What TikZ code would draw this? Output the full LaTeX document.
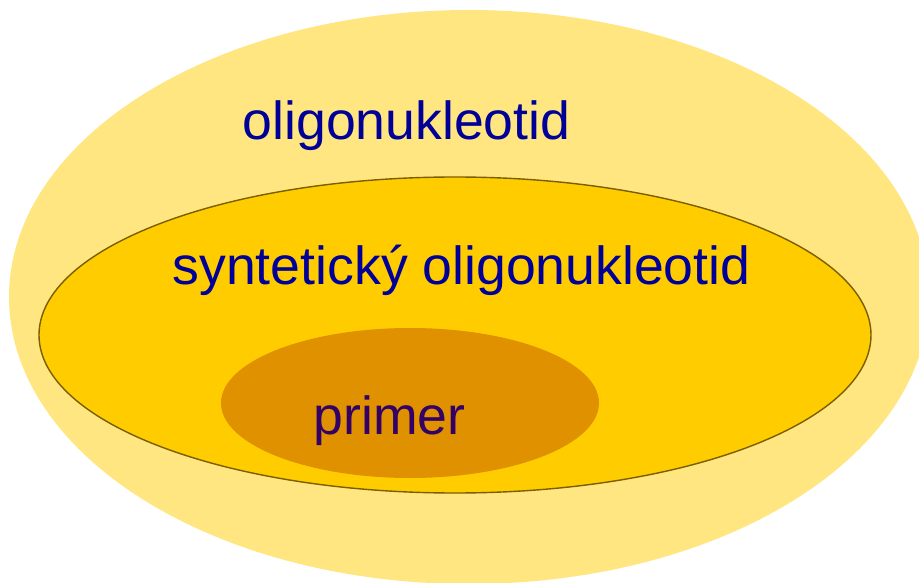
\documentclass[tikz,border=0pt]{standalone}
\usepackage{fontspec}
\setmainfont{Liberation Sans}
\definecolor{outerfill}{RGB}{255,230,128}
\definecolor{midfill}{RGB}{255,204,0}
\definecolor{midline}{RGB}{122,94,0}
\definecolor{innerfill}{RGB}{224,145,0}
\definecolor{labelblue}{RGB}{0,0,153}
\definecolor{labelpurple}{RGB}{51,0,102}
\tikzset{
  setlabel/.style={anchor=base, inner sep=0pt, font=\fontsize{53.6}{60}\selectfont, text=labelblue},
}
\begin{document}
\begin{tikzpicture}[x=1pt,y=1pt]
  \useasboundingbox (0,0) rectangle (919,582);
  \clip (0,0) rectangle (919,582);
  % nested sets
  \fill[outerfill] (469,285) ellipse [x radius=460, y radius=287];
  \filldraw[fill=midfill, draw=midline, line width=1.4pt] (455,247) ellipse [x radius=416, y radius=158];
  \fill[innerfill] (410,179) ellipse [x radius=189, y radius=75];
  % labels
  \node[setlabel] (oligo) at (406.5,442) {oligonukleotid};
  \node[setlabel] (synth) at (461.5,297) {syntetický oligonukleotid};
  \node[setlabel, text=labelpurple] (primer) at (389.5,148) {primer};
\end{tikzpicture}
\end{document}
